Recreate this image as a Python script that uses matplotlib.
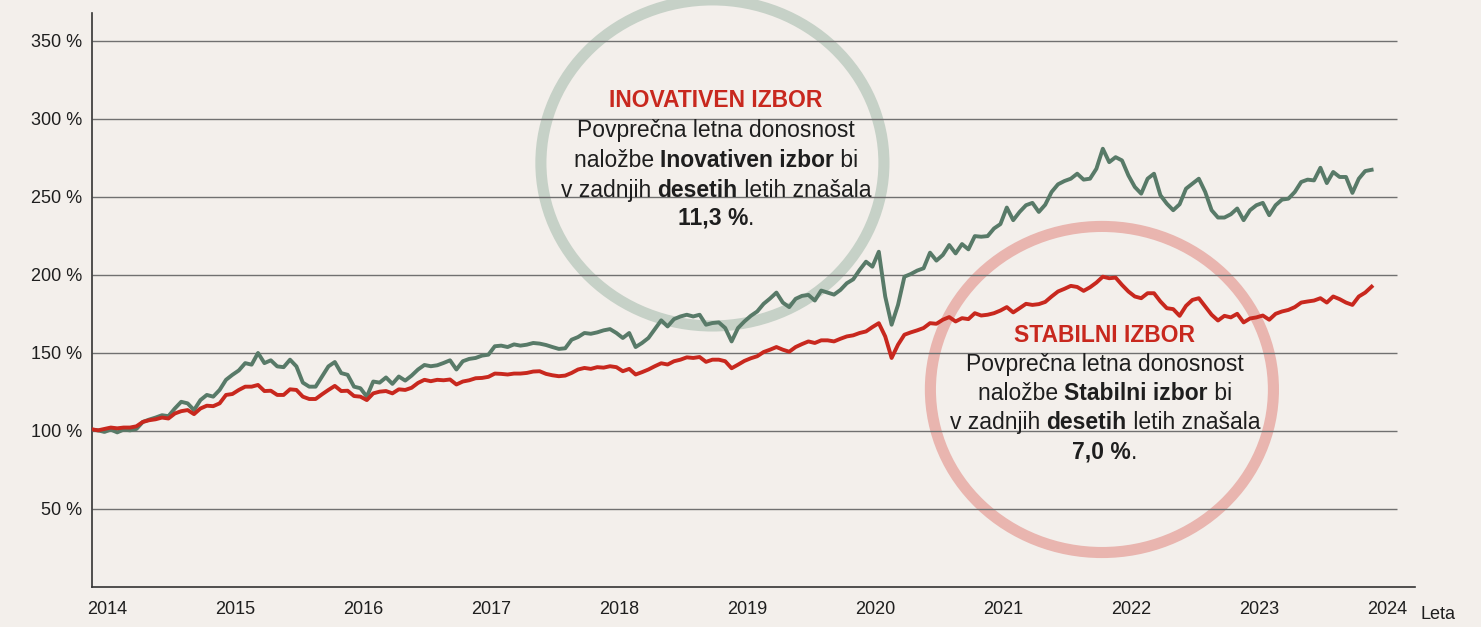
import numpy as np
import matplotlib.pyplot as plt
from matplotlib.patches import Ellipse

plt.rcParams['font.family'] = ['Liberation Sans', 'DejaVu Sans']

# vrednost naložbe v % (začetek = 100 %)
inovativen = [
    100.9, 100.4, 99.4, 100.9, 99.1, 100.9, 100.4, 101.3, 105.8, 107.3,
    108.6, 110.1, 109.5, 114.4, 118.7, 117.7, 113.4, 119.8, 123.1, 122.0,
    126.3, 132.8, 136.0, 138.8, 143.5, 142.5, 150.0, 143.5, 145.3, 141.4,
    140.9, 145.7, 141.4, 131.0, 128.4, 128.4, 134.9, 141.4, 144.2, 137.1,
    136.0, 128.4, 127.4, 122.0, 131.7, 131.0, 134.3, 130.2, 134.9, 132.3,
    135.5, 139.4, 142.3, 141.5, 142.1, 143.6, 145.3, 139.4, 144.7, 146.2,
    146.8, 148.3, 148.9, 154.3, 154.7, 153.8, 155.5, 154.7, 155.3, 156.4,
    156.0, 155.1, 153.8, 152.6, 153.0, 158.5, 160.2, 162.8, 162.3, 163.2,
    164.5, 165.3, 162.8, 159.6, 162.8, 153.8, 156.4, 159.6, 165.3, 170.9,
    167.0, 171.7, 173.4, 174.5, 173.4, 174.5, 168.1, 169.2, 169.6, 166.0,
    157.4, 166.0, 170.2, 173.8, 176.6, 181.5, 184.9, 188.7, 182.3, 179.4,
    184.7, 186.6, 187.2, 183.6, 190.0, 188.7, 187.4, 190.4, 194.7, 197.2,
    203.2, 208.5, 205.3, 214.9, 186.2, 168.1, 180.8, 198.9, 200.6, 202.8,
    204.3, 214.3, 209.2, 212.8, 219.2, 213.8, 219.8, 216.4, 224.9, 224.5,
    224.9, 229.8, 232.6, 243.2, 235.1, 240.4, 244.7, 246.2, 240.4, 245.0,
    253.2, 258.1, 260.2, 261.7, 264.9, 261.1, 261.7, 268.1, 280.9, 272.3,
    275.5, 273.4, 263.8, 256.4, 252.1, 261.7, 264.9, 251.1, 245.7, 241.5,
    245.3, 255.3, 258.5, 261.7, 253.2, 241.5, 236.8, 236.8, 238.9, 242.6,
    235.1, 241.5, 244.7, 246.2, 238.3, 244.7, 248.3, 248.9, 253.2, 259.6,
    261.1, 260.6, 268.7, 258.9, 266.0, 262.8, 262.8, 252.6, 261.7, 266.6, 267.4,
]
stabilni = [
    101.1, 100.4, 101.3, 102.2, 101.7, 102.2, 102.2, 103.0, 105.8, 106.9,
    107.5, 108.6, 108.0, 111.2, 112.7, 113.4, 110.8, 114.4, 116.2, 115.9,
    117.7, 123.1, 123.7, 126.3, 128.4, 128.4, 129.5, 125.6, 125.8, 123.1,
    123.1, 126.7, 126.3, 122.0, 120.5, 120.5, 123.5, 126.3, 128.9, 125.6,
    125.8, 122.4, 122.0, 119.8, 124.1, 125.2, 125.6, 124.1, 126.7, 126.3,
    127.7, 130.8, 132.8, 131.9, 132.8, 132.5, 133.0, 129.8, 131.7, 132.5,
    133.8, 134.0, 134.7, 136.8, 136.6, 136.2, 136.8, 136.8, 137.2, 138.1,
    138.3, 136.6, 135.7, 135.1, 135.5, 137.2, 139.4, 140.4, 139.8, 140.9,
    140.6, 141.5, 140.9, 138.3, 139.8, 136.2, 137.7, 139.4, 141.5, 143.4,
    142.6, 144.7, 145.7, 147.2, 146.8, 147.4, 144.3, 145.7, 145.7, 144.7,
    140.2, 142.5, 144.9, 146.6, 147.9, 150.6, 152.1, 153.8, 152.1, 150.8,
    153.8, 155.7, 157.4, 156.4, 158.1, 158.1, 157.4, 159.1, 160.6, 161.3,
    162.8, 163.8, 166.6, 169.1, 160.6, 146.8, 155.3, 161.7, 163.2, 164.5,
    166.0, 169.1, 168.7, 171.3, 173.0, 170.2, 172.3, 171.7, 175.5, 174.0,
    174.5, 175.5, 177.2, 179.4, 176.0, 178.7, 181.5, 180.8, 181.3, 182.7,
    186.2, 189.4, 191.1, 193.0, 192.3, 189.8, 192.1, 195.1, 198.9, 197.9,
    198.3, 193.6, 189.4, 186.2, 185.1, 188.3, 188.3, 183.0, 178.7, 178.1,
    173.8, 180.2, 184.0, 185.1, 179.8, 174.5, 170.8, 173.8, 172.8, 175.1,
    169.6, 172.1, 172.8, 174.0, 171.3, 175.1, 176.6, 177.6, 179.4, 182.3,
    183.0, 183.6, 185.1, 182.3, 186.2, 184.5, 182.3, 180.8, 186.2, 188.7, 192.5,
]
leta = 2013.88 + 0.05 * np.arange(len(inovativen))

yticks = [50, 100, 150, 200, 250, 300, 350]
ytick_labels = ['%d %%' % v for v in yticks]
xticks = list(range(2014, 2025))

BG = '#F3EFEB'
GREEN = '#587A68'
RED = '#C8281E'
TXT = '#1E1E1E'

W, H = 1481, 627
fig = plt.figure(figsize=(W / 100, H / 100), dpi=100, facecolor=BG)
ax = fig.add_axes([92 / W, 40 / H, 1323 / W, 574 / H])
ax.set_facecolor(BG)
ax.set_xlim(2013.883, 2024.219)
ax.set_ylim(0, 367.9)

ax.hlines(yticks, 2013.883, 2024.078, color='#707070', lw=1.0, zorder=2)

# krogi okoli opisov
ax.add_patch(Ellipse((2018.73, 271.8), 2.68, 209, fill=False, ec='#C6D1C7',
                     lw=8, clip_on=False, zorder=1))
ax.add_patch(Ellipse((2021.773, 126.6), 2.68, 209, fill=False, ec='#E9B5AF',
                     lw=8, clip_on=False, zorder=1))

ax.plot(leta, inovativen, color=GREEN, lw=2.8, zorder=3, solid_joinstyle='round')
ax.plot(leta, stabilni, color=RED, lw=2.8, zorder=4, solid_joinstyle='round')

for s in ['top', 'right']:
    ax.spines[s].set_visible(False)
for s in ['left', 'bottom']:
    ax.spines[s].set_color('#333333')
    ax.spines[s].set_linewidth(1.2)

ax.set_yticks(yticks)
ax.set_yticklabels(ytick_labels)
ax.set_xticks(xticks)
ax.set_xticklabels([str(x) for x in xticks])
ax.tick_params(axis='y', length=0, pad=7, labelsize=13, labelcolor=TXT)
ax.tick_params(axis='x', length=0, pad=10, labelsize=13, labelcolor=TXT)

fig.text(1420 / W, 1 - 619 / H, 'Leta', fontsize=13, color=TXT, va='baseline')

renderer = fig.canvas.get_renderer()


def text_width(s, weight, size):
    t1 = fig.text(0, 0, '|' + s + '|', fontsize=size, weight=weight)
    t2 = fig.text(0, 0, '||', fontsize=size, weight=weight)
    w = t1.get_window_extent(renderer).width - t2.get_window_extent(renderer).width
    t1.remove()
    t2.remove()
    return w


def rich_line(xc, yb, parts, size=16.5, color=TXT):
    widths = [text_width(s, wt, size) for s, wt in parts]
    x = xc - sum(widths) / 2
    for (s, wt), w in zip(parts, widths):
        fig.text(x / W, 1 - yb / H, s, fontsize=size, weight=wt, color=color,
                 va='baseline', ha='left')
        x += w


def opis(xc, ys, naslov, ime, donos):
    rich_line(xc, ys[0], [(naslov, 'bold')], color=RED)
    rich_line(xc, ys[1], [('Povprečna letna donosnost', 'normal')])
    rich_line(xc, ys[2], [('naložbe ', 'normal'), (ime, 'bold'), (' bi', 'normal')])
    rich_line(xc, ys[3], [('v zadnjih ', 'normal'), ('desetih', 'bold'),
                          (' letih znašala', 'normal')])
    rich_line(xc, ys[4], [(donos, 'bold'), ('.', 'normal')])


opis(716, [106.7, 136.7, 166.7, 196.7, 225], 'INOVATIVEN IZBOR',
     'Inovativen izbor', '11,3 %')
opis(1105, [341.7, 371, 400, 429.3, 459], 'STABILNI IZBOR',
     'Stabilni izbor', '7,0 %')

fig.savefig('out.png', dpi=100, facecolor=BG)
